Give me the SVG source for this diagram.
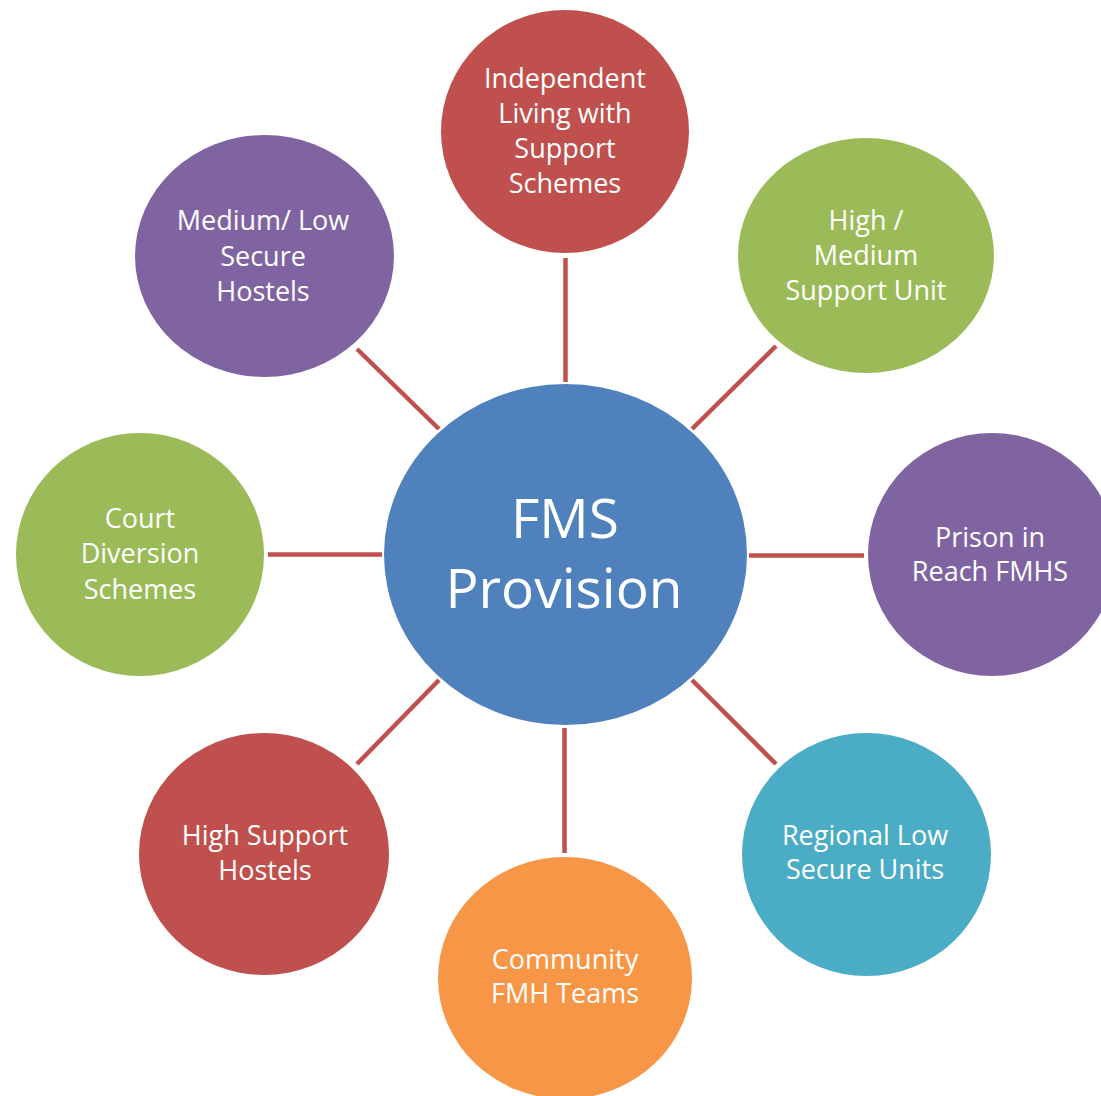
<svg xmlns="http://www.w3.org/2000/svg" width="1101" height="1096" viewBox="0 0 1101 1096">
<style>
.lbl{font-family:"Open Sans","Liberation Sans",sans-serif;font-size:27px;fill:#fff;text-anchor:middle}
.big{font-family:"Open Sans","Liberation Sans",sans-serif;font-size:55px;fill:#fff;text-anchor:middle}
#connectors line{stroke:#C0504D;stroke-width:4.5;stroke-linecap:butt}
</style>
<rect width="1101" height="1096" fill="#fff"/>
<g id="connectors">
<line x1="565.5" y1="258" x2="565.5" y2="382"/>
<line x1="268" y1="554.5" x2="382" y2="554.5"/>
<line x1="749" y1="555.5" x2="864" y2="555.5"/>
<line x1="564.5" y1="728" x2="564.5" y2="853"/>
<line x1="357" y1="349" x2="439" y2="429"/>
<line x1="692" y1="429" x2="776" y2="346"/>
<line x1="357" y1="764" x2="439" y2="680"/>
<line x1="692" y1="680" x2="776" y2="764"/>
</g>
<g id="center">
<ellipse cx="565.5" cy="554.5" rx="181.5" ry="170.5" fill="#4F81BD"/>
<text class="big" x="565" y="538">FMS</text>
<text class="big" x="564" y="608">Provision</text>
</g>
<g id="independent">
<ellipse cx="565" cy="131.5" rx="124" ry="121.5" fill="#C0504D"/>
<text class="lbl" x="565" y="88">Independent</text>
<text class="lbl" x="565" y="123">Living with</text>
<text class="lbl" x="565" y="158">Support</text>
<text class="lbl" x="565" y="193">Schemes</text>
</g>
<g id="medium-low">
<ellipse cx="264.5" cy="256" rx="129.5" ry="121" fill="#8064A2"/>
<text class="lbl" x="263" y="230">Medium/ Low</text>
<text class="lbl" x="263" y="266">Secure</text>
<text class="lbl" x="263" y="301">Hostels</text>
</g>
<g id="high-medium">
<ellipse cx="866" cy="255.5" rx="128" ry="117.5" fill="#9BBB59"/>
<text class="lbl" x="866" y="230">High /</text>
<text class="lbl" x="866" y="265">Medium</text>
<text class="lbl" x="866" y="300">Support Unit</text>
</g>
<g id="court">
<ellipse cx="140" cy="554.5" rx="124" ry="121.5" fill="#9BBB59"/>
<text class="lbl" x="140" y="528">Court</text>
<text class="lbl" x="140" y="563">Diversion</text>
<text class="lbl" x="140" y="599">Schemes</text>
</g>
<g id="prison">
<ellipse cx="992" cy="554.5" rx="124" ry="121.5" fill="#8064A2"/>
<text class="lbl" x="990" y="547">Prison in</text>
<text class="lbl" x="990" y="581">Reach FMHS</text>
</g>
<g id="high-support">
<ellipse cx="264" cy="854" rx="125" ry="121" fill="#C0504D"/>
<text class="lbl" x="265" y="845">High Support</text>
<text class="lbl" x="265" y="880">Hostels</text>
</g>
<g id="regional">
<ellipse cx="866.5" cy="854.5" rx="124.5" ry="121.5" fill="#4BACC6"/>
<text class="lbl" x="865" y="845">Regional Low</text>
<text class="lbl" x="865" y="879">Secure Units</text>
</g>
<g id="community">
<ellipse cx="565" cy="978" rx="127" ry="121" fill="#F79646"/>
<text class="lbl" x="565" y="969">Community</text>
<text class="lbl" x="565" y="1003">FMH Teams</text>
</g>
</svg>
